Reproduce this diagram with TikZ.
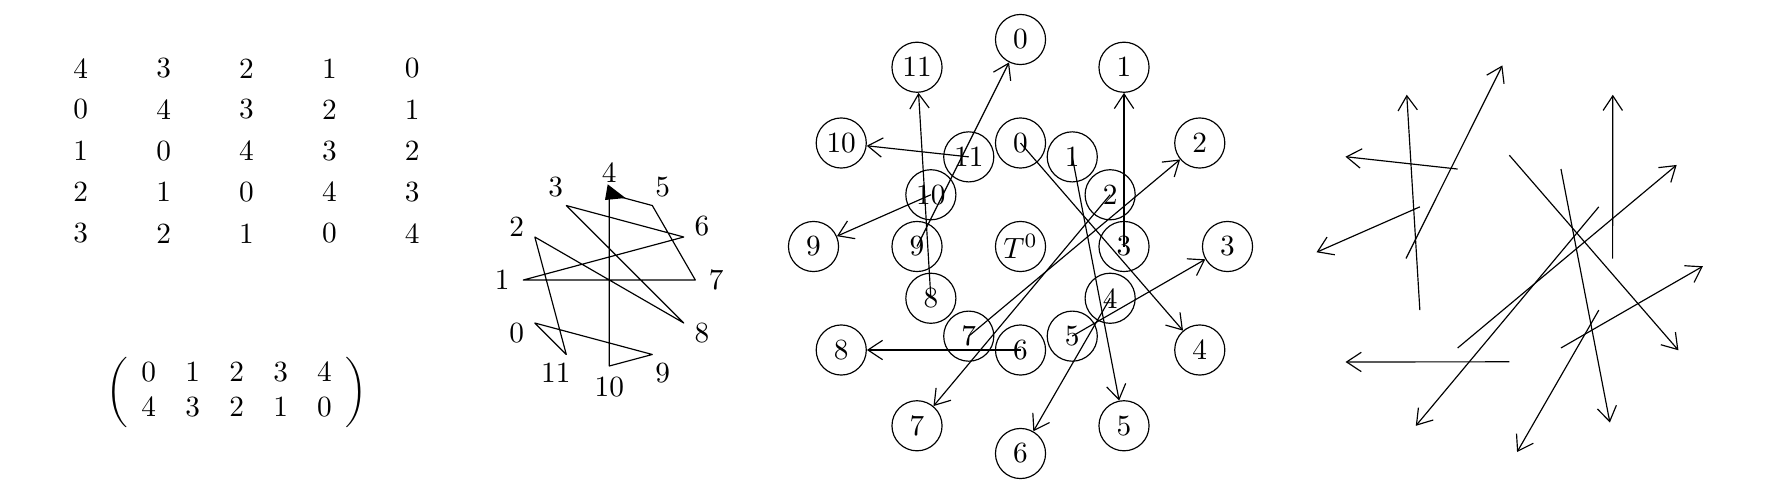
\documentclass[tikz,border=0pt]{standalone}
\usepackage{amsmath}
\usetikzlibrary{arrows.meta}
\begin{document}
\begin{tikzpicture}[x=0.3413pt,y=-0.3413pt,
  num/.style={inner sep=0pt},
  ring/.style={circle,draw,minimum size=17.1pt,inner sep=0pt},
  edge/.style={line width=0.4pt,line join=round},
  arr/.style={line width=0.4pt,-{Straight Barb[length=5pt,width=6.6pt]}}]
\useasboundingbox (0,0) rectangle (1782,500);
% ---------- panel 1: table ----------
\foreach \row [count=\r from 0] in {{4,3,2,1,0},{0,4,3,2,1},{1,0,4,3,2},{2,1,0,4,3},{3,2,1,0,4}} {
  \foreach \v [count=\c from 0] in \row {
    \node[num] (t\r\c) at ({80.7+82.9*\c},{68.3+41.25*\r}) {\v};
  }
}
\node[num] (pm) at (236.7,392) {$\biggl(\hspace{4.5pt}\begin{matrix}0&1&2&3&4\\4&3&2&1&0\end{matrix}\hspace{4.5pt}\biggr)$};
% ---------- panel 2: polygon on a circle ----------
\foreach \k in {0,...,11} {
  \coordinate (q\k) at ({609.3+86*cos(210-30*\k)},{280-86*sin(210-30*\k)});
  \node[num] (ql\k) at ({609.3+107*cos(210-30*\k)},{280-107*sin(210-30*\k)}) {\k};
}
\draw[edge] (q4) -- (q10) -- (q9) -- (q0) -- (q11) -- (q2) -- (q8) -- (q3) -- (q6) -- (q1) -- (q7) -- (q5) -- (q4);
\fill (607.7,184.3) -- (605,200) -- (625.5,198) -- cycle;
% ---------- panel 3: two rings of nodes ----------
\node[ring] (T) at (1020.5,246.5) {$T^0$};
\foreach \k in {0,...,11} {
  \node[ring] (i\k) at ({1020.5+103.5*cos(90-30*\k)},{246.5-103.5*sin(90-30*\k)}) {\k};
  \node[ring] (o\k) at ({1020.5+207*cos(90-30*\k)},{246.5-207*sin(90-30*\k)}) {\k};
}
\foreach \a/\b in {0/4,1/5,2/7,3/1,4/6,5/3,6/8,7/2,8/11,9/0,10/9,11/10}
  \draw[arr] (i\a.center) -- (o\b);
% ---------- panel 4: arrows only ----------
\foreach \k in {0,...,11} {
  \coordinate (a\k) at ({1509.3+103.3*cos(90-30*\k)},{258.5-103.3*sin(90-30*\k)});
  \coordinate (b\k) at ({1509.3+207*cos(90-30*\k)},{258.5-207*sin(90-30*\k)});
}
\foreach \a/\b in {0/4,1/5,2/7,3/1,4/6,5/3,6/8,7/2,8/11,9/0,10/9,11/10}
  \draw[arr,shorten >=5.3pt] (a\a) -- (b\b);
\end{tikzpicture}
\end{document}
